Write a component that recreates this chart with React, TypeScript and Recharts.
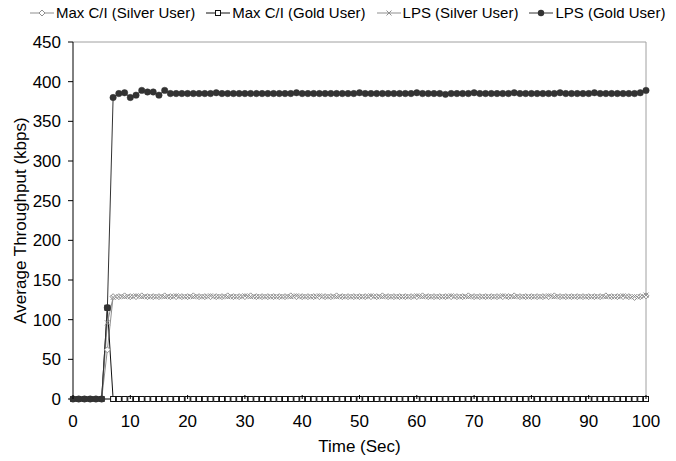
import React from 'react';
import { LineChart, Line, XAxis, YAxis, ReferenceLine, Legend } from 'recharts';

const FONT = '"Liberation Sans", Arial, Helvetica, sans-serif';

const times = [
  0, 1, 2, 3, 4, 5, 6, 7, 8, 9,
  10, 11, 12, 13, 14, 15, 16, 17, 18, 19,
  20, 21, 22, 23, 24, 25, 26, 27, 28, 29,
  30, 31, 32, 33, 34, 35, 36, 37, 38, 39,
  40, 41, 42, 43, 44, 45, 46, 47, 48, 49,
  50, 51, 52, 53, 54, 55, 56, 57, 58, 59,
  60, 61, 62, 63, 64, 65, 66, 67, 68, 69,
  70, 71, 72, 73, 74, 75, 76, 77, 78, 79,
  80, 81, 82, 83, 84, 85, 86, 87, 88, 89,
  90, 91, 92, 93, 94, 95, 96, 97, 98, 99,
  100,
];

const maxCISilver = [
  0, 0, 0, 0, 0, 0, 62, 129, 129, 130,
  129, 129, 130, 129, 129, 129, 130, 129, 129, 129,
  129, 130, 129, 129, 129, 129, 129, 130, 129, 129,
  129, 130, 129, 129, 129, 129, 129, 129, 130, 129,
  129, 129, 129, 129, 129, 129, 130, 129, 129, 129,
  129, 129, 129, 129, 130, 129, 129, 129, 129, 129,
  129, 130, 129, 129, 129, 129, 129, 129, 129, 130,
  129, 129, 129, 129, 129, 129, 129, 130, 129, 129,
  129, 129, 129, 129, 130, 129, 129, 129, 129, 129,
  129, 129, 129, 130, 129, 129, 129, 129, 128, 129,
  130,
];

const maxCIGold = [
  0, 0, 0, 0, 0, 0, 115, 0, 0, 0,
  0, 0, 0, 0, 0, 0, 0, 0, 0, 0,
  0, 0, 0, 0, 0, 0, 0, 0, 0, 0,
  0, 0, 0, 0, 0, 0, 0, 0, 0, 0,
  0, 0, 0, 0, 0, 0, 0, 0, 0, 0,
  0, 0, 0, 0, 0, 0, 0, 0, 0, 0,
  0, 0, 0, 0, 0, 0, 0, 0, 0, 0,
  0, 0, 0, 0, 0, 0, 0, 0, 0, 0,
  0, 0, 0, 0, 0, 0, 0, 0, 0, 0,
  0, 0, 0, 0, 0, 0, 0, 0, 0, 0,
  0,
];

const lpsSilver = [
  0, 0, 0, 0, 0, 0, 96, 128, 129, 129,
  129, 130, 129, 129, 129, 129, 129, 129, 130, 129,
  129, 129, 129, 129, 130, 129, 129, 129, 129, 129,
  130, 129, 129, 129, 129, 129, 129, 129, 129, 130,
  129, 129, 129, 130, 129, 129, 129, 129, 129, 129,
  129, 129, 130, 129, 129, 129, 129, 129, 129, 129,
  130, 129, 129, 129, 129, 129, 130, 129, 129, 129,
  129, 129, 129, 129, 129, 130, 129, 129, 129, 129,
  129, 129, 129, 130, 129, 129, 129, 129, 129, 129,
  129, 129, 129, 129, 129, 129, 130, 129, 129, 129,
  131,
];

const lpsGold = [
  0, 0, 0, 0, 0, 0, 115, 380, 385, 386,
  380, 383, 389, 387, 387, 383, 389, 385, 385, 385,
  385, 385, 385, 385, 385, 386, 385, 385, 385, 385,
  385, 385, 385, 385, 385, 385, 385, 385, 385, 386,
  385, 385, 385, 385, 385, 385, 385, 385, 385, 385,
  386, 385, 385, 385, 385, 385, 385, 385, 385, 385,
  386, 385, 385, 385, 385, 384, 385, 385, 385, 385,
  386, 385, 385, 385, 385, 385, 385, 386, 385, 385,
  385, 385, 385, 385, 385, 386, 385, 385, 385, 385,
  385, 386, 385, 385, 385, 385, 385, 385, 385, 386,
  389,
];

const seriesNames = [
  'Max C/I (Silver User)',
  'Max C/I (Gold User)',
  'LPS (Silver User)',
  'LPS (Gold User)',
];

const xTicks = [0, 10, 20, 30, 40, 50, 60, 70, 80, 90, 100];
const yTicks = [0, 50, 100, 150, 200, 250, 300, 350, 400, 450];

const data = times.map((t, i) => ({
  t,
  ms: maxCISilver[i],
  mg: maxCIGold[i],
  ls: lpsSilver[i],
  lg: lpsGold[i],
}));

const SILVER = '#8f8f8f';
const GOLD_LINE = '#111';
const LPS_GOLD = '#333';

const diamondPath = (cx: number, cy: number, r: number) =>
  `M${cx},${cy - r}L${cx + r},${cy}L${cx},${cy + r}L${cx - r},${cy}Z`;

const DiamondDot = (p: any) => {
  const { cx, cy, index } = p;
  if (cx == null || cy == null) return <g key={`d${index}`} />;
  return <path key={`d${index}`} d={diamondPath(cx, cy, 3)} fill="#fff" stroke={SILVER} strokeWidth={1} />;
};

const SquareDot = (p: any) => {
  const { cx, cy, index } = p;
  if (cx == null || cy == null) return <g key={`s${index}`} />;
  return <rect key={`s${index}`} x={cx - 2.5} y={cy - 2.5} width={5} height={5} fill="#fff" stroke={GOLD_LINE} strokeWidth={1} />;
};

const CrossDot = (p: any) => {
  const { cx, cy, index } = p;
  if (cx == null || cy == null) return <g key={`c${index}`} />;
  return (
    <path
      key={`c${index}`}
      d={`M${cx - 2.5},${cy - 2.5}L${cx + 2.5},${cy + 2.5}M${cx - 2.5},${cy + 2.5}L${cx + 2.5},${cy - 2.5}`}
      stroke={SILVER}
      strokeWidth={1}
      fill="none"
    />
  );
};

const CircleDot = (p: any) => {
  const { cx, cy, index } = p;
  if (cx == null || cy == null) return <g key={`o${index}`} />;
  return <circle key={`o${index}`} cx={cx} cy={cy} r={3.2} fill={LPS_GOLD} stroke={LPS_GOLD} strokeWidth={0.5} />;
};

const XTick = (p: any) => {
  const { x, y, payload } = p;
  const axisY = y - 16;
  return (
    <g>
      <line x1={x} x2={x} y1={axisY} y2={axisY - 4} stroke="#000" strokeWidth={1} />
      <text x={x} y={y} dy="0.71em" textAnchor="middle" fontSize={17} fontFamily={FONT} fill="#000">
        {payload.value}
      </text>
    </g>
  );
};

const legendIcon = (i: number) => {
  const cx = 12;
  const cy = 5;
  if (i === 0)
    return (
      <>
        <line x1={0} x2={24} y1={cy} y2={cy} stroke={SILVER} />
        <path d={diamondPath(cx, cy, 3)} fill="#fff" stroke={SILVER} />
      </>
    );
  if (i === 1)
    return (
      <>
        <line x1={0} x2={24} y1={cy} y2={cy} stroke={GOLD_LINE} />
        <rect x={cx - 2.5} y={cy - 2.5} width={5} height={5} fill="#fff" stroke={GOLD_LINE} />
      </>
    );
  if (i === 2)
    return (
      <>
        <line x1={0} x2={24} y1={cy} y2={cy} stroke={SILVER} />
        <path d={`M${cx - 2.5},${cy - 2.5}L${cx + 2.5},${cy + 2.5}M${cx - 2.5},${cy + 2.5}L${cx + 2.5},${cy - 2.5}`} stroke={SILVER} />
      </>
    );
  return (
    <>
      <line x1={0} x2={24} y1={cy} y2={cy} stroke={LPS_GOLD} />
      <circle cx={cx} cy={cy} r={3.2} fill={LPS_GOLD} />
    </>
  );
};

const renderLegend = () => (
  <div
    style={{
      display: 'flex',
      alignItems: 'center',
      height: 10,
      paddingLeft: 22,
      fontFamily: FONT,
      fontSize: 15,
      lineHeight: '10px',
      color: '#000',
      whiteSpace: 'nowrap',
    }}
  >
    {seriesNames.map((name, i) => (
      <div key={name} style={{ display: 'flex', alignItems: 'center', marginRight: 11 }}>
        <svg width={24} height={10} style={{ display: 'block' }}>
          {legendIcon(i)}
        </svg>
        <span style={{ marginLeft: 2 }}>{name}</span>
      </div>
    ))}
  </div>
);

const YLabel = (props: any) => {
  const vb = props.viewBox || {};
  const x = (vb.x || 0) + 12;
  const y = (vb.y || 0) + (vb.height || 0) / 2;
  return (
    <text
      x={x}
      y={y}
      transform={`rotate(-90, ${x}, ${y})`}
      textAnchor="middle"
      dominantBaseline="central"
      fontSize={17}
      fontFamily={FONT}
      fill="#000"
    >
      Average Throughput (kbps)
    </text>
  );
};

export default function App() {
  return (
    <LineChart
      width={668}
      height={453}
      data={data}
      margin={{ top: 24, right: 30, bottom: 0, left: 0 }}
      style={{ fontFamily: FONT }}
    >
      <Legend
        verticalAlign="top"
        align="left"
        content={renderLegend}
        wrapperStyle={{ top: 0, left: 0, width: 668, height: 10 }}
      />
      <XAxis
        dataKey="t"
        type="number"
        domain={[0, 100]}
        ticks={xTicks}
        interval={0}
        axisLine={{ stroke: '#000', strokeWidth: 1 }}
        tickLine={false}
        tickSize={6}
        tickMargin={10}
        tick={XTick}
        height={62}
        label={{ value: 'Time (Sec)', position: 'insideBottom', offset: 9, fontSize: 17, fill: '#000', fontFamily: FONT }}
      />
      <YAxis
        type="number"
        domain={[0, 450]}
        ticks={yTicks}
        interval={0}
        width={65}
        axisLine={{ stroke: '#000', strokeWidth: 1 }}
        tickLine={{ stroke: '#000', strokeWidth: 1 }}
        tickSize={5}
        tickMargin={7}
        tick={{ fontSize: 17, fill: '#000', fontFamily: FONT }}
        label={<YLabel />}
      />
      <ReferenceLine y={450} stroke="#a0a0a0" strokeWidth={1} ifOverflow="visible" />
      <ReferenceLine x={100} stroke="#a0a0a0" strokeWidth={1} ifOverflow="visible" />
      <Line
        dataKey="ms"
        name={seriesNames[0]}
        stroke={SILVER}
        strokeWidth={1}
        dot={DiamondDot}
        activeDot={false}
        isAnimationActive={false}
      />
      <Line
        dataKey="mg"
        name={seriesNames[1]}
        stroke={GOLD_LINE}
        strokeWidth={1}
        dot={SquareDot}
        activeDot={false}
        isAnimationActive={false}
      />
      <Line
        dataKey="ls"
        name={seriesNames[2]}
        stroke={SILVER}
        strokeWidth={1}
        dot={CrossDot}
        activeDot={false}
        isAnimationActive={false}
      />
      <Line
        dataKey="lg"
        name={seriesNames[3]}
        stroke={LPS_GOLD}
        strokeWidth={1}
        dot={CircleDot}
        activeDot={false}
        isAnimationActive={false}
      />
    </LineChart>
  );
}
